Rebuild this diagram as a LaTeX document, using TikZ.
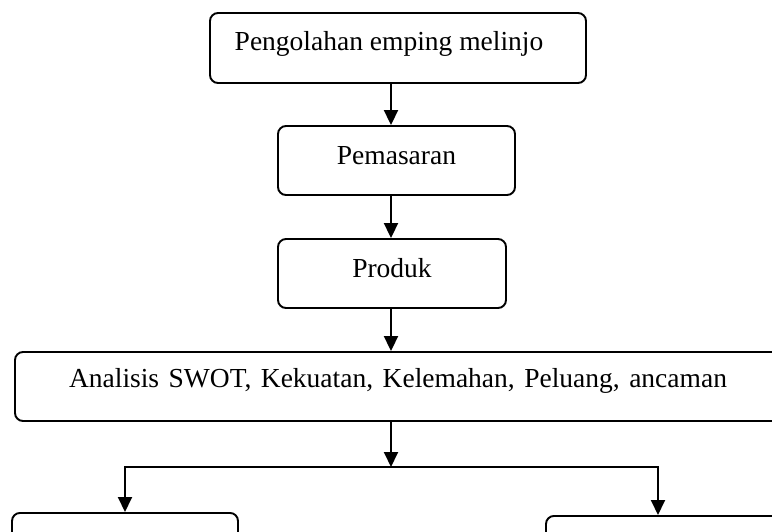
\documentclass[tikz,border=0pt]{standalone}
\usepackage{fontspec}
\setmainfont{Liberation Serif}
\usetikzlibrary{arrows.meta}
\tikzset{
  box/.style={draw, line width=1.9pt, rounded corners=8pt, inner sep=0pt, anchor=base,
    font=\fontsize{27.5}{30}\selectfont},
  arr/.style={line width=1.9pt, line join=miter, -{Triangle[width=14pt,length=15pt]}},
}
\begin{document}
\begin{tikzpicture}[x=1pt,y=-1pt]
\useasboundingbox (0,0) rectangle (772,531);
\clip (0,0) rectangle (772,531);
\coordinate (ax) at (391,0);
\node[box, minimum width=376pt, text height=37pt, text depth=33pt] (b1) at (398,50) {\hspace*{-18pt}Pengolahan emping melinjo};
\node[box, minimum width=237pt, text height=38pt, text depth=31pt] (b2) at (396.5,164) {Pemasaran};
\node[box, minimum width=228pt, text height=38pt, text depth=31pt] (b3) at (392,277) {Produk};
\node[box, minimum width=766pt, text height=35pt, text depth=34pt] (b4) at (398,387) {\spaceskip=9.5pt\relax Analisis SWOT, Kekuatan, Kelemahan, Peluang, ancaman};
\node[box, anchor=north, minimum width=226pt, minimum height=60pt] (bl) at (125,512) {};
\node[box, anchor=north, minimum width=234pt, minimum height=60pt] (br) at (663,515) {};
\coordinate (split) at (391,467);
\coordinate (rx) at (658,0);
\draw[arr] (b1.south -| ax) -- (b2.north -| ax);
\draw[arr] (b2.south -| ax) -- (b3.north -| ax);
\draw[arr] (b3.south -| ax) -- (b4.north -| ax);
\draw[arr] (b4.south -| ax) -- (split);
\draw[arr] (split) -- (split -| bl.north) -- (bl.north);
\draw[arr] (split) -- (split -| rx) -- (br.north -| rx);
\end{tikzpicture}
\end{document}
